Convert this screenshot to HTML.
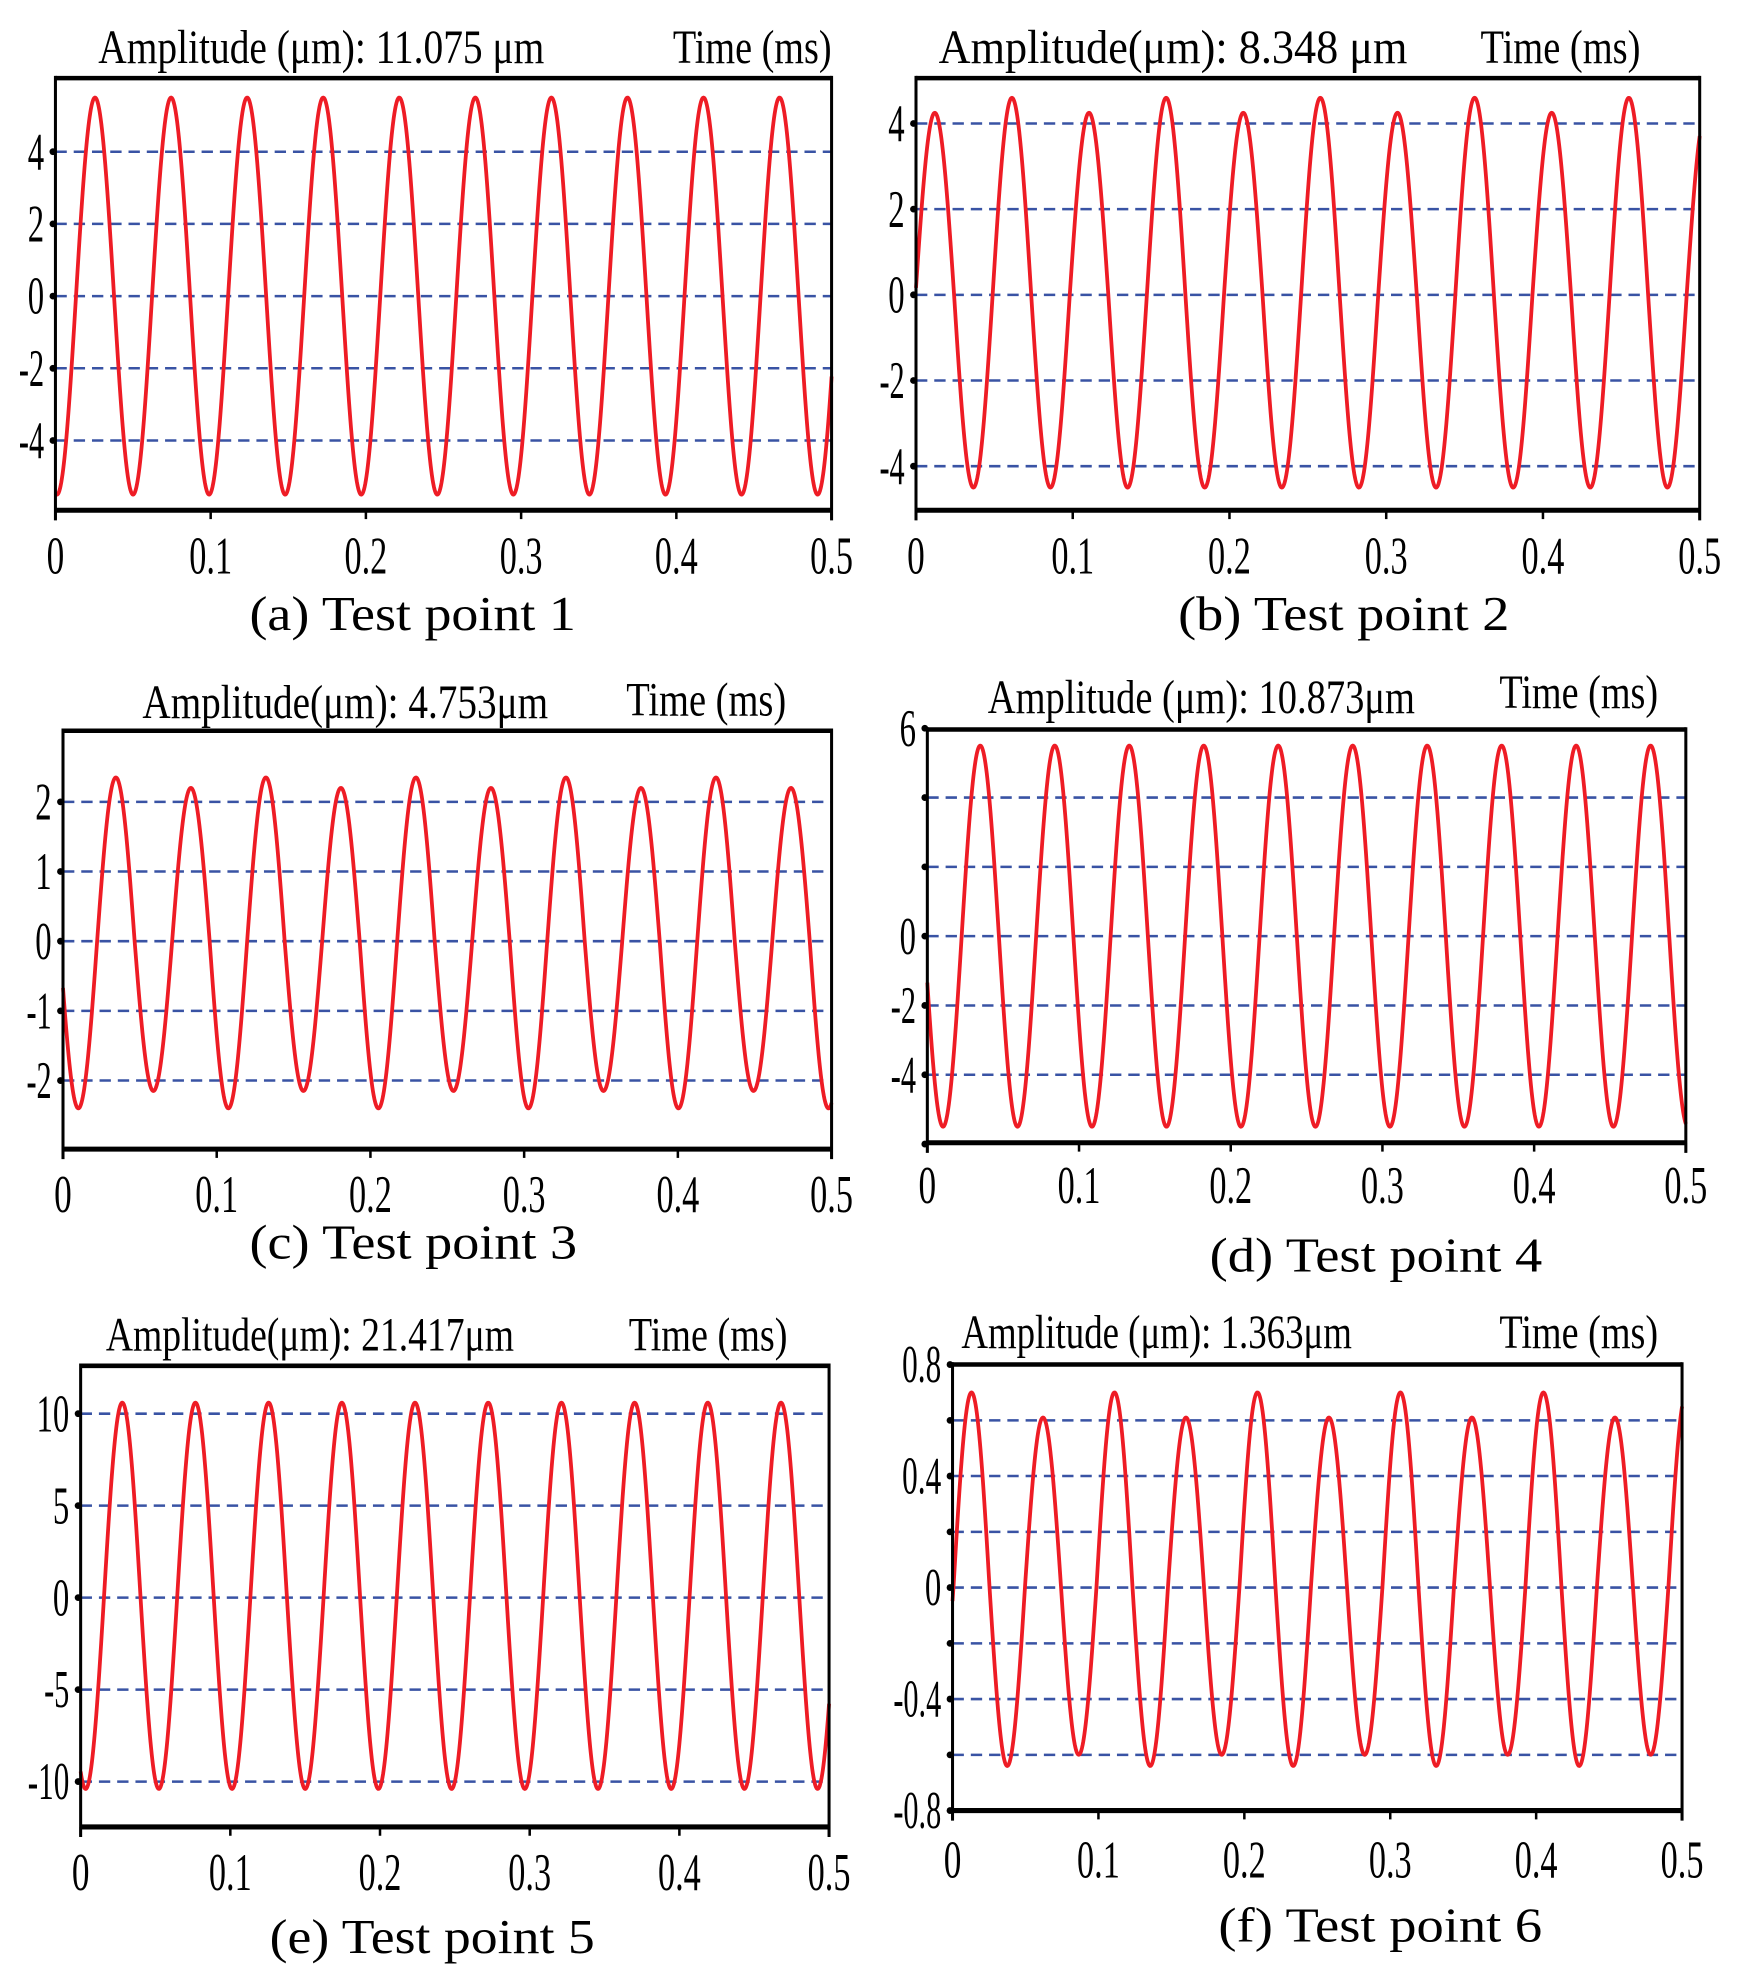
<!DOCTYPE html>
<html><head><meta charset="utf-8"><style>
html,body{margin:0;padding:0;background:#fff;}
svg{display:block;}
text{font-family:"Liberation Serif",serif;fill:#000;}
</style></head><body>
<svg id="s" width="1738" height="1976" viewBox="0 0 1379.4 1568.3" xmlns="http://www.w3.org/2000/svg"></svg>
<script>
const S=document.getElementById('s');
let out='';
function txt(x,y,s,size,anchor,len){
  out+=`<text x="${x}" y="${y}" font-size="${size}" text-anchor="${anchor||'start'}"${len?` textLength="${len}" lengthAdjust="spacingAndGlyphs"`:''}>${s}</text>`;
}
const panels=[
 {x0:44,x1:660,y0:62,y1:405,v0:235,k:28.65,tp:0.0255,P:0.049,pk:[5.5],tr:[5.5],m:0,
  labels:[[4,'4'],[2,'2'],[0,'0'],[-2,'-2'],[-4,'-4']],dash:[4,2,0,-2,-4],
  title:['Amplitude  (μm):  11.075  μm',78,432,50],time:[534,660,50],xl:455,cap:['(a) Test point 1',198,457,500]},
 {x0:727,x1:1349,y0:62,y1:405,v0:234,k:34,tp:0.012,P:0.0492,pk:[4.25,4.6],tr:[4.5],m:0,
  labels:[[4,'4'],[2,'2'],[0,'0'],[-2,'-2'],[-4,'-4']],dash:[4,2,0,-2,-4],
  title:['Amplitude(μm):     8.348     μm',745,1117,50],time:[1175,1302,50],xl:455,cap:['(b) Test point 2',935,1198,500]},
 {x0:50,x1:660,y0:580,y1:912,v0:747,k:55.3,tp:0.0344,P:0.0488,pk:[2.35,2.2],tr:[2.15,2.4],m:0,
  labels:[[2,'2'],[1,'1'],[0,'0'],[-1,'-1'],[-2,'-2']],dash:[2,1,0,-1,-2],
  title:['Amplitude(μm):  4.753μm',113,435,570],time:[497,624,568],xl:962,cap:['(c) Test point 3',198,458,999]},
 {x0:736,x1:1338,y0:579,y1:907,v0:743,k:27.5,tp:0.0349,P:0.0491,pk:[5.5],tr:[5.5],m:0,
  labels:[[6,'6'],[0,'0'],[-2,'-2'],[-4,'-4']],dash:[4,2,0,-2,-4],ticks:[6,4,2,0,-2,-4,-6],
  title:['Amplitude (μm):   10.873μm',784,1123,566],time:[1190,1316,562],xl:955,cap:['(d) Test point 4',960,1224,1009]},
 {x0:64,x1:658,y0:1084,y1:1450,v0:1268,k:14.6,tp:0.0278,P:0.0489,pk:[10.6],tr:[10.4],m:0,
  labels:[[10,'10'],[5,'5'],[0,'0'],[-5,'-5'],[-10,'-10']],dash:[10,5,0,-5,-10],
  title:['Amplitude(μm):  21.417μm',84,408,1072],time:[499,625,1072],xl:1500,cap:['(e) Test point 5',214,472,1550]},
 {x0:756,x1:1335,y0:1083,y1:1437,v0:1260,k:221.25,tp:0.013,P:0.049,pk:[0.69,0.6],tr:[0.65,0.61],m:0.01,
  labels:[[0.8,'0.8'],[0.4,'0.4'],[0,'0'],[-0.4,'-0.4'],[-0.8,'-0.8']],dash:[0.6,0.4,0.2,0,-0.2,-0.4,-0.6],ticks:[0.8,0.6,0.4,0.2,0,-0.2,-0.4,-0.6,-0.8],
  title:['Amplitude (μm):  1.363μm',763,1073,1070],time:[1190,1316,1070],xl:1490,cap:['(f) Test point 6',967,1224,1541]}
];
for(const p of panels){
  const Y=v=>p.v0-v*p.k, W=p.x1-p.x0, X=t=>p.x0+t/0.5*W;
  for(const d of p.dash){const y=Y(d).toFixed(1);
    out+=`<line x1="${p.x0}" y1="${y}" x2="${p.x1}" y2="${y}" stroke="#3953a4" stroke-width="2" stroke-dasharray="9 5.5"/>`;}
  let pts=[];
  for(let i=0;i<=1200;i++){const t=0.5*i/1200;
    const ph=(t-p.tp)/p.P, c=Math.cos(2*Math.PI*ph);
    let v;
    if(c>=0){const n=Math.round(ph);v=p.pk[((n%p.pk.length)+p.pk.length)%p.pk.length]*c;}
    else{const n=Math.floor(ph);v=p.tr[((n%p.tr.length)+p.tr.length)%p.tr.length]*c;}
    v+=p.m;
    pts.push(X(t).toFixed(2)+','+Y(v).toFixed(2));}
  out+=`<polyline points="${pts.join(' ')}" fill="none" stroke="#ee1c25" stroke-width="3" stroke-linejoin="round"/>`;
  out+=`<line x1="${p.x0}" y1="${p.y0}" x2="${p.x1}" y2="${p.y0}" stroke="#000" stroke-width="3.6"/>`;
  out+=`<line x1="${p.x0}" y1="${p.y1}" x2="${p.x1}" y2="${p.y1}" stroke="#000" stroke-width="4"/>`;
  out+=`<line x1="${p.x0}" y1="${p.y0-1.8}" x2="${p.x0}" y2="${p.y1+8}" stroke="#000" stroke-width="2.4"/>`;
  out+=`<line x1="${p.x1}" y1="${p.y0-1.8}" x2="${p.x1}" y2="${p.y1+8}" stroke="#000" stroke-width="2.4"/>`;
  const tk=p.ticks||p.labels.map(l=>l[0]);
  for(const v of tk){out+=`<circle cx="${p.x0-2}" cy="${Y(v).toFixed(1)}" r="2.7" fill="#000"/>`;}
  for(const [v,s] of p.labels){let w=0;for(const ch of s)w+=(ch=='.'?5:(ch=='-'?7:13));
    txt(p.x0-9,(Y(v)+14).toFixed(1),s,42,'end',w);}
  for(let i=0;i<=5;i++){const x=X(i*0.1);
    out+=`<line x1="${x}" y1="${p.y1}" x2="${x}" y2="${p.y1+7}" stroke="#000" stroke-width="2"/>`;
    const s=i==0?'0':'0.'+i; txt(x,p.xl,s,42,'middle',i==0?14:34);}
  txt(p.title[1],p.title[3],p.title[0],38,'start',p.title[2]-p.title[1]);
  txt(p.time[0],p.time[2],'Time (ms)',38,'start',p.time[1]-p.time[0]);
  txt(p.cap[1],p.cap[3],p.cap[0],39,'start',p.cap[2]-p.cap[1]);
}
S.innerHTML=out;
</script>
</body></html>
